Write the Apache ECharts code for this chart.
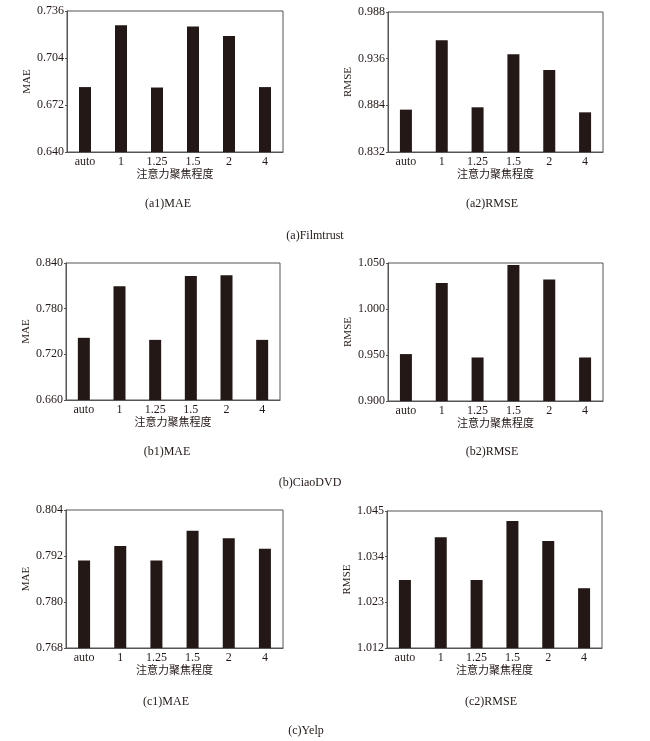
<!DOCTYPE html>
<html>
<head>
<meta charset="utf-8">
<script src="https://cdn.jsdelivr.net/npm/echarts@6/dist/echarts.min.js"></script>
<style>
html,body{margin:0;padding:0;background:#fff;}
#main{width:650px;height:741px;}
</style>
</head>
<body>
<div id="main"></div>
<script>
// ---- data ----
const categories = ['auto', '1', '1.25', '1.5', '2', '4'];
const xAxisName = '注意力聚焦程度';

const filmtrustMAE  = [0.6842, 0.7263, 0.6839, 0.7254, 0.7190, 0.6842];
const filmtrustRMSE = [0.8792, 0.9564, 0.8818, 0.9408, 0.9234, 0.8762];
const ciaoMAE       = [0.7417, 0.8093, 0.7390, 0.8229, 0.8238, 0.7390];
const ciaoRMSE      = [0.9510, 1.0282, 0.9473, 1.0478, 1.0322, 0.9473];
const yelpMAE       = [0.7908, 0.7946, 0.7908, 0.7986, 0.7966, 0.7939];
const yelpRMSE      = [1.0284, 1.0387, 1.0284, 1.0426, 1.0378, 1.0264];

// y-axis ranges: [min, max, interval]
const filmtrustMAETicks  = [0.640, 0.736, 0.032];
const filmtrustRMSETicks = [0.832, 0.988, 0.052];
const ciaoMAETicks       = [0.660, 0.840, 0.060];
const ciaoRMSETicks      = [0.900, 1.050, 0.050];
const yelpMAETicks       = [0.768, 0.804, 0.012];
const yelpRMSETicks      = [1.012, 1.045, 0.011];

const subCaptions = ['(a1)MAE', '(a2)RMSE', '(b1)MAE', '(b2)RMSE', '(c1)MAE', '(c2)RMSE'];
const groupCaptions = ['(a)Filmtrust', '(b)CiaoDVD', '(c)Yelp'];

// ---- layout/styles ----
const FONT = "'Liberation Serif', 'Noto Sans CJK SC', serif";
const TXT = '#231815';
const BAR = '#231815';
const panels = [
  {data: filmtrustMAE,  ticks: filmtrustMAETicks,  name: 'MAE',  grid: {left: 67,  top: 11,  width: 216, height: 141}},
  {data: filmtrustRMSE, ticks: filmtrustRMSETicks, name: 'RMSE', grid: {left: 388, top: 12,  width: 215, height: 140}},
  {data: ciaoMAE,       ticks: ciaoMAETicks,       name: 'MAE',  grid: {left: 66,  top: 263, width: 214, height: 137}},
  {data: ciaoRMSE,      ticks: ciaoRMSETicks,      name: 'RMSE', grid: {left: 388, top: 263, width: 215, height: 138}},
  {data: yelpMAE,       ticks: yelpMAETicks,       name: 'MAE',  grid: {left: 66,  top: 510, width: 217, height: 138}},
  {data: yelpRMSE,      ticks: yelpRMSETicks,      name: 'RMSE', grid: {left: 387, top: 511, width: 215, height: 137}}
];
const subPos = [[168, 204], [492, 204], [167, 452], [492, 452], [166, 702], [491, 702]];
const groupPos = [[315, 236], [310, 483], [306, 731]];

const grids = [], xAxes = [], yAxes = [], series = [], graphics = [];
panels.forEach((p, i) => {
  grids.push(Object.assign({show: true, borderColor: '#555', borderWidth: 1, backgroundColor: 'transparent'}, p.grid));
  xAxes.push({
    type: 'category', gridIndex: i, data: categories,
    axisLine: {lineStyle: {color: '#555', width: 1}},
    axisTick: {show: false},
    axisLabel: {color: TXT, fontFamily: FONT, fontSize: 12, margin: 4},
    name: xAxisName, nameLocation: 'middle', nameGap: 18,
    nameTextStyle: {color: TXT, fontFamily: FONT, fontSize: 11}
  });
  yAxes.push({
    type: 'value', gridIndex: i,
    min: p.ticks[0], max: p.ticks[1], interval: p.ticks[2],
    splitLine: {show: false},
    axisLine: {show: true, lineStyle: {color: '#555', width: 1}},
    axisTick: {show: true, length: 2, lineStyle: {color: '#555'}},
    axisLabel: {color: TXT, fontFamily: FONT, fontSize: 12, margin: 3,
      formatter: v => v.toFixed(3)},
    name: p.name, nameLocation: 'middle', nameRotate: 90, nameGap: 28,
    nameTextStyle: {color: TXT, fontFamily: FONT, fontSize: 11}
  });
  series.push({
    type: 'bar', xAxisIndex: i, yAxisIndex: i, data: p.data,
    barWidth: 12, itemStyle: {color: BAR}, silent: true
  });
  graphics.push({
    type: 'text', x: subPos[i][0], y: subPos[i][1],
    style: {text: subCaptions[i], fill: TXT, font: '12px ' + FONT, textAlign: 'center', textVerticalAlign: 'middle'}
  });
});
groupCaptions.forEach((t, i) => {
  graphics.push({
    type: 'text', x: groupPos[i][0], y: groupPos[i][1],
    style: {text: t, fill: TXT, font: '12px ' + FONT, textAlign: 'center', textVerticalAlign: 'middle'}
  });
});

const chart = echarts.init(document.getElementById('main'), null, {renderer: 'canvas'});
chart.setOption({
  animation: false,
  backgroundColor: '#fff',
  grid: grids, xAxis: xAxes, yAxis: yAxes, series: series,
  graphic: graphics
});
</script>
</body>
</html>
